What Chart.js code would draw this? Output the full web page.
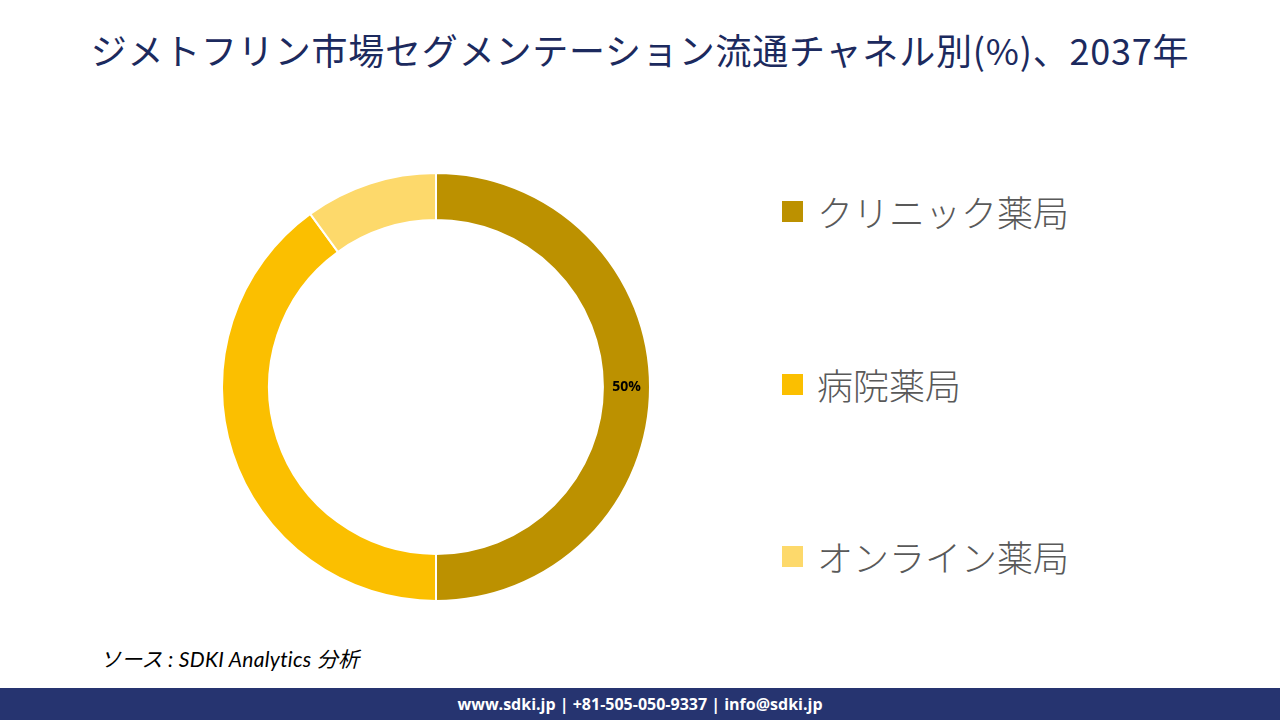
<!DOCTYPE html>
<html>
<head>
<meta charset="utf-8">
<script src="https://cdn.jsdelivr.net/npm/chart.js@4.4.1/dist/chart.umd.min.js"></script>
<style>
  body { margin: 0; width: 1280px; height: 720px; background: #fff; position: relative; overflow: hidden; font-family: "Noto Sans CJK JP", sans-serif; }
  #title { position: absolute; left: 0; top: 23px; width: 1280px; text-align: center; font-size: 36px; color: #1c2a5e; letter-spacing: 0.8px; }
  #chartBox { position: absolute; left: 221px; top: 172px; width: 430px; height: 430px; }
  #legend { position: absolute; left: 782px; top: 0; }
  .item { position: absolute; left: 0; white-space: nowrap; display: flex; align-items: center; }
  .box { width: 21px; height: 21px; margin-right: 14px; }
  .lbl { font-size: 36px; color: #595959; font-weight: 300; }
  #source { position: absolute; left: 100px; top: 643px; font-size: 21px; font-style: italic; color: #000; font-family: "Lato", "Noto Sans CJK JP", sans-serif; letter-spacing: 0.3px; }
  #footer { position: absolute; left: 0; top: 688px; width: 1280px; height: 32px; background: #263470; color: #fff; text-align: center; font: bold 16px "Open Sans", sans-serif; line-height: 32px; }
</style>
</head>
<body>
<div id="title">ジメトフリン市場セグメンテーション流通チャネル別(%)、2037年</div>
<div id="chartBox"><canvas id="myChart"></canvas></div>
<div id="legend"></div>
<div id="source">ソース : SDKI Analytics 分析</div>
<div id="footer">www.sdki.jp | +81-505-050-9337 | info@sdki.jp</div>
<script>
const labels = ['クリニック薬局', '病院薬局', 'オンライン薬局'];
const shares = [50, 40, 10];
const colors = ['#bc9100', '#fbbf00', '#fdd96b'];
const shownLabels = [true, false, false];
const legendTops = [211, 384, 556];

// legend on the right
const legend = document.getElementById('legend');
labels.forEach((name, i) => {
    const row = document.createElement('div');
    row.className = 'item';
    row.style.top = (legendTops[i] - 25) + 'px';
    row.style.height = '50px';
    row.innerHTML = '<div class="box" style="background:' + colors[i] + '"></div><span class="lbl">' + name + '</span>';
    legend.appendChild(row);
});

const pctLabels = {
    id: 'pctLabels',
    afterDatasetsDraw(chart) {
        const ctx = chart.ctx;
        const meta = chart.getDatasetMeta(0);
        ctx.save();
        ctx.font = 'bold 14px "Open Sans", sans-serif';
        ctx.fillStyle = '#000';
        ctx.textAlign = 'center';
        ctx.textBaseline = 'middle';
        meta.data.forEach((arc, i) => {
            if (!shownLabels[i]) return;
            const pos = arc.tooltipPosition();
            ctx.fillText(shares[i] + '%', pos.x, pos.y);
        });
        ctx.restore();
    }
};

new Chart('myChart', {
    type: 'doughnut',
    data: {
        labels: labels,
        datasets: [{
            data: shares,
            backgroundColor: colors,
            borderColor: '#fff',
            borderWidth: 2
        }]
    },
    options: {
        responsive: true,
        maintainAspectRatio: false,
        animation: false,
        cutout: '78%',
        layout: { padding: 0 },
        plugins: {
            legend: { display: false },
            tooltip: { enabled: false }
        }
    },
    plugins: [pctLabels]
});
</script>
</body>
</html>
